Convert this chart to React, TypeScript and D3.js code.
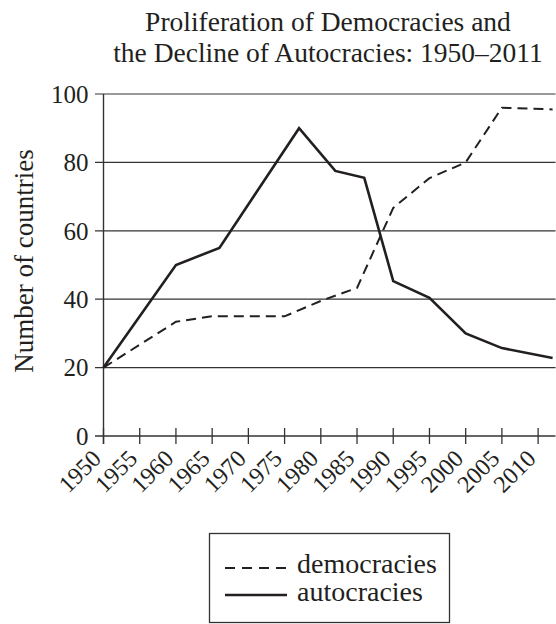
import React from "react";
import * as d3 from "d3";

const titleLines = ["Proliferation of Democracies and", "the Decline of Autocracies: 1950\u20132011"];
const yLabel = "Number of countries";
const yTicks = [0, 20, 40, 60, 80, 100];
const xTicks = [1950, 1955, 1960, 1965, 1970, 1975, 1980, 1985, 1990, 1995, 2000, 2005, 2010];

const demoYears = [1950, 1960, 1965, 1975, 1980, 1985, 1990, 1995, 2000, 2005, 2012];
const demoValues = [20, 33.4, 35, 35, 39.5, 43.3, 66.7, 75.4, 80, 96, 95.5];
const autoYears = [1950, 1960, 1966, 1977, 1982, 1986, 1990, 1995, 2000, 2005, 2012];
const autoValues = [20, 50, 55, 90, 77.5, 75.5, 45.3, 40.4, 30, 25.7, 22.8];

const seriesNames = ["democracies", "autocracies"];

const W = 556;
const H = 624;
const FONT = "'Liberation Serif', 'Times New Roman', serif";
const INK = "#231f20";

export default function App() {
  const x = d3.scaleLinear().domain([1950, 2012.4]).range([103.5, 555.5]);
  const y = d3.scaleLinear().domain([0, 100]).range([436, 94]);
  const line = d3
    .line<[number, number]>()
    .x((d) => x(d[0]))
    .y((d) => y(d[1]));
  const demo = demoYears.map((yr, i) => [yr, demoValues[i]] as [number, number]);
  const auto = autoYears.map((yr, i) => [yr, autoValues[i]] as [number, number]);
  const left = x(1950);
  const right = x(2012.4);

  return (
    <svg
      width={W}
      height={H}
      style={{ position: "absolute", left: 0, top: 0, background: "#fff" }}
      fontFamily={FONT}
    >
      {titleLines.map((t, i) => (
        <text key={i} x={328} y={31 + i * 31} textAnchor="middle" fontSize={27.5} fill={INK}>
          {t}
        </text>
      ))}
      {yTicks.map((v) => (
        <line
          key={v}
          x1={left - 8.5}
          x2={right}
          y1={y(v)}
          y2={y(v)}
          stroke={v === 100 ? "#777" : "#333"}
          strokeWidth={v === 100 ? 1.6 : 1.3}
        />
      ))}
      {yTicks.map((v) => (
        <text
          key={"yl" + v}
          x={left - 15}
          y={y(v)}
          dy="0.35em"
          textAnchor="end"
          fontSize={25}
          fill={INK}
        >
          {v}
        </text>
      ))}
      <line x1={left} x2={left} y1={y(100)} y2={y(0) + 8} stroke="#333" strokeWidth={1.4} />
      {xTicks.map((t) => (
        <line key={"xt" + t} x1={x(t)} x2={x(t)} y1={y(0) - 8} y2={y(0) + 8} stroke="#333" strokeWidth={1.3} />
      ))}
      {xTicks.map((t) => (
        <text
          key={"xl" + t}
          transform={`translate(${x(t) - 1},${y(0) + 24}) rotate(-45)`}
          textAnchor="end"
          fontSize={24}
          fill={INK}
        >
          {t}
        </text>
      ))}
      <text
        transform={`translate(33,${(y(0) + y(100)) / 2-4}) rotate(-90)`}
        textAnchor="middle"
        fontSize={27}
        fill={INK}
      >
        {yLabel}
      </text>
      <path d={line(demo) || ""} fill="none" stroke={INK} strokeWidth={2} strokeDasharray="10,6" />
      <path d={line(auto) || ""} fill="none" stroke={INK} strokeWidth={2.6} strokeLinejoin="miter" />
      <rect x={209.5} y={533.5} width={240} height={89} fill="#fff" stroke="#333" strokeWidth={1.3} />
      <line x1={225} x2={287} y1={568} y2={568} stroke={INK} strokeWidth={2} strokeDasharray="10,7" />
      <line x1={225} x2={287} y1={595} y2={595} stroke={INK} strokeWidth={2.6} />
      <text x={297} y={573} fontSize={28} fill={INK}>
        {seriesNames[0]}
      </text>
      <text x={297} y={601} fontSize={28} fill={INK}>
        {seriesNames[1]}
      </text>
    </svg>
  );
}
